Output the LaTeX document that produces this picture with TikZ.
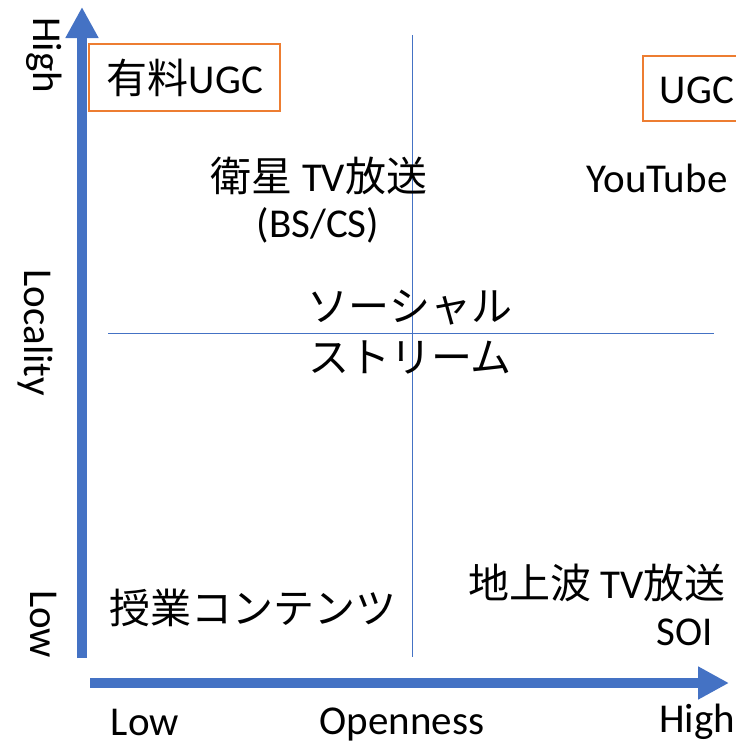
\documentclass[tikz,border=0pt]{standalone}
\usepackage{fontspec}
\setmainfont{Carlito}
\newfontfamily\jp{Noto Sans CJK JP}
\usetikzlibrary{arrows.meta}
\definecolor{axblue}{HTML}{4472C4}
\definecolor{boxorange}{HTML}{ED7D31}
\begin{document}
\begin{tikzpicture}[x=1pt,y=-1pt,
  axis/.style={draw=axblue,line width=10pt,-{Triangle[length=31pt,width=31pt]}},
  quad/.style={draw=axblue,line width=1pt},
  lbl/.style={font=\fontsize{41}{47}\selectfont,inner sep=0pt,align=center},
  jlbl/.style={font=\fontsize{41}{49}\selectfont,inner sep=0pt,align=center},
  ugcbox/.style={draw=boxorange,line width=2.5pt}]
\useasboundingbox (0,0) rectangle (736,745);
% axes
\coordinate (ys) at (82,658);
\coordinate (ye) at (82,7);
\coordinate (xs) at (90,683);
\coordinate (xe) at (729,683);
\draw[axis] (ys) -- (ye);
\draw[axis] (xs) -- (xe);
% quadrant lines
\coordinate (vt) at (412,35);
\coordinate (vb) at (412,657);
\coordinate (hl) at (108,333);
\coordinate (hr) at (714,333);
\draw[quad] (vt) -- (vb);
\draw[quad] (hl) -- (hr);
% boxes
\draw[ugcbox] (89,44) rectangle (280,111);
\node[jlbl] (paid) at (185,78) {{\jp 有料}UGC};
\draw[ugcbox] (643,56) rectangle (760,121);
\node[lbl] (ugc) at (697,90) {UGC};
% axis labels
\node[lbl,rotate=-90] (yhigh) at (44,55) {High};
\node[lbl,rotate=-90] (ylow) at (44,624) {Low};
\node[lbl,rotate=-90] (yloc) at (35,333) {Locality};
\node[lbl] (xlow) at (145,722) {Low};
\node[lbl] (xopen) at (402,724) {Openness};
\node[lbl] (xhigh) at (697,722) {High};
% contents
\node[jlbl] (sat) at (319,176) {{\jp 衛星} TV{\jp 放送}};
\node[lbl] (bscs) at (318,225) {(BS/CS)};
\node[lbl] (yt) at (657,178) {YouTube};
\node[jlbl] (soc1) at (410,308) {\jp ソーシャル};
\node[jlbl] (soc2) at (410,357) {\jp ストリーム};
\node[jlbl] (class) at (253,608) {\jp 授業コンテンツ};
\node[jlbl] (terr) at (597,583) {{\jp 地上波} TV{\jp 放送}};
\node[lbl,anchor=east] (soi) at (713,632) {SOI};
\end{tikzpicture}
\end{document}
